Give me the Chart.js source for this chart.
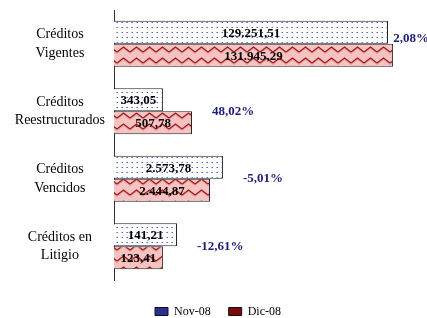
<!DOCTYPE html>
<html>
<head>
<meta charset="utf-8">
<script src="https://cdn.jsdelivr.net/npm/chart.js@4.4.1/dist/chart.umd.min.js"></script>
<style>
  html, body { margin:0; padding:0; background:#fff; }
  #wrap { width:427px; height:318px; }
</style>
</head>
<body>
<div id="wrap"><canvas id="myChart"></canvas></div>
<script>
// categorias (dos lineas cada una)
const categorias = [['Créditos','Vigentes'], ['Créditos','Reestructurados'], ['Créditos','Vencidos'], ['Créditos en','Litigio']];
const series = ['Nov-08', 'Dic-08'];
// montos que se leen dentro de las barras
const montoNov = [129251.51, 343.05, 2573.78, 141.21];
const montoDic = [131945.29, 507.78, 2444.87, 123.41];
// largo visible de cada barra (escala relativa, 100 = casi todo el ancho)
const largoNov = [91.3, 16.3, 36.3, 21.0];
const largoDic = [93.0, 26.0, 32.0, 16.3];
// variacion Nov-08 -> Dic-08
const variacion = [2.08, 48.02, -5.01, -12.61];

const SERIF = '"Liberation Serif", "Times New Roman", serif';

function fmt_num( v ) {
    // 2573.78 -> 2.573,78
    let parts = v.toFixed(2).split('.');
    let ent = parts[0].replace(/\B(?=(\d{3})+(?!\d))/g, '.');
    return ent + ',' + parts[1];
}

function fmt_pct( v ) {
    return v.toFixed(2).replace('.', ',') + '%';
}

// trama de puntos azules (Nov)
function make_dots() {
    let c = document.createElement('canvas');
    c.width = 5; c.height = 5;
    let x = c.getContext('2d');
    x.fillStyle = '#ffffff';
    x.fillRect(0, 0, 5, 5);
    x.fillStyle = '#9db3f2';
    x.fillRect(1, 2, 1, 1);
    x.fillStyle = '#4f5fd0';
    x.fillRect(2, 2, 1, 1);
    return x.createPattern(c, 'repeat');
}

// trama de ondas rojas (Dic)
function make_waves() {
    let c = document.createElement('canvas');
    c.width = 13; c.height = 11;
    let x = c.getContext('2d');
    x.fillStyle = '#f6c3c3';
    x.fillRect(0, 0, 13, 11);
    // sombra bajo la onda
    x.fillStyle = '#eba0a0';
    x.beginPath();
    x.moveTo(0, 8); x.lineTo(6.5, 3); x.lineTo(13, 8); x.lineTo(13, 10); x.lineTo(6.5, 5); x.lineTo(0, 10);
    x.closePath();
    x.fill();
    x.strokeStyle = '#a01a1a';
    x.lineWidth = 1.3;
    x.beginPath();
    x.moveTo(0, 8); x.lineTo(6.5, 3); x.lineTo(13, 8);
    x.stroke();
    return x.createPattern(c, 'repeat');
}

// etiquetas de montos y variaciones
const etiquetas = {
    id: 'etiquetas',
    afterDatasetsDraw(chart) {
        const ctx = chart.ctx;
        const montos = [montoNov, montoDic];
        ctx.save();
        ctx.font = 'bold 13px ' + SERIF;
        ctx.fillStyle = '#000';
        ctx.textAlign = 'center';
        ctx.textBaseline = 'middle';
        chart.data.datasets.forEach(function(ds, di) {
            chart.getDatasetMeta(di).data.forEach(function(bar, i) {
                ctx.fillText(fmt_num(montos[di][i]), (bar.x + bar.base) / 2, bar.y + 1);
            });
        });
        // porcentajes
        ctx.fillStyle = '#1c1c74';
        ctx.textAlign = 'left';
        const m0 = chart.getDatasetMeta(0).data;
        const m1 = chart.getDatasetMeta(1).data;
        for( let i = 0; i < variacion.length; ++i ) {
            let txt = fmt_pct(variacion[i]);
            let w = ctx.measureText(txt).width;
            let x = Math.max(m0[i].x, m1[i].x) + 20;
            let y = (m0[i].y + m1[i].y) / 2;
            // no cabe a la derecha
            if( x + w > chart.width ) {
                x = chart.width - w + 2;
                y = m0[i].y + 6;
            }
            ctx.fillText(txt, x, y);
        }
        ctx.restore();
    }
};

const data = {
    labels: categorias,
    datasets: [{
        label: series[0],
        data: largoNov,
        backgroundColor: make_dots(),
        borderColor: '#222',
        borderWidth: 1,
        legendColor: '#2b2f8f'
    }, {
        label: series[1],
        data: largoDic,
        backgroundColor: make_waves(),
        borderColor: '#222',
        borderWidth: 1,
        legendColor: '#7d0a0a'
    }]
};

const config = {
    type: 'bar',
    data: data,
    plugins: [etiquetas],
    options: {
        indexAxis: 'y',
        responsive: true,
        maintainAspectRatio: false,
        animation: false,
        categoryPercentage: 0.68,
        barPercentage: 1,
        layout: { padding: { top: 10, right: 0, left: 9, bottom: -9.5 } },
        scales: {
            x: {
                display: false,
                min: 0,
                max: 104.3
            },
            y: {
                grid: { display: false, drawTicks: false },
                border: { display: true, color: '#333', width: 1 },
                afterFit: function(scale) {
                    scale.width = 105;
                    scale.paddingTop = 0;
                    scale.paddingBottom = 0;
                },
                ticks: {
                    crossAlign: 'center',
                    padding: 9,
                    color: '#000',
                    font: { family: SERIF, size: 14, lineHeight: 1.3 }
                }
            }
        },
        plugins: {
            tooltip: { enabled: false },
            legend: {
                display: true,
                position: 'bottom',
                // titulo vacio solo para bajar la leyenda
                title: { display: true, text: '', font: { size: 1, lineHeight: 1 }, padding: { top: 6.5, bottom: 0 } },
                labels: {
                    boxWidth: 13,
                    boxHeight: 8,
                    padding: 18,
                    color: '#000',
                    font: { family: SERIF, size: 12 },
                    generateLabels: function(chart) {
                        return chart.data.datasets.map(function(ds, i) {
                            return {
                                text: ds.label,
                                fillStyle: ds.legendColor,
                                strokeStyle: '#111',
                                fontColor: '#000',
                                lineWidth: 1,
                                hidden: false,
                                datasetIndex: i
                            };
                        });
                    }
                }
            }
        }
    }
};

const myChart = new Chart(document.getElementById('myChart'), config);
</script>
</body>
</html>
